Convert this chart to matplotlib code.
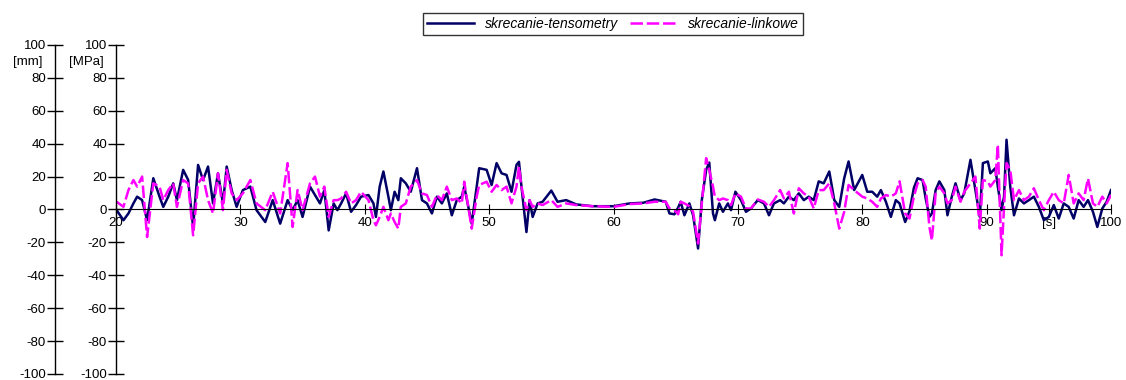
import numpy as np
import matplotlib.pyplot as plt

plt.rcParams['font.family'] = ['Liberation Sans', 'DejaVu Sans']
plt.rcParams['axes.unicode_minus'] = False

# czas [s]
czas = [20.05, 20.6, 21.0, 21.4, 21.7, 22.1, 22.5, 23.0, 23.5, 23.8, 24.2, 24.6, 24.9, 25.4, 25.8,
        26.2, 26.6, 27.0, 27.4, 27.8, 28.2, 28.6, 28.9, 29.3, 29.7, 30.2, 30.8, 31.3, 32.0, 32.6,
        33.2, 33.8, 34.2, 34.6, 35.0, 35.6, 36.0, 36.4, 36.75, 37.1, 37.5, 37.8, 38.1, 38.5, 38.9,
        39.3, 39.7, 40.3, 40.7, 40.9, 41.2, 41.5, 41.9, 42.1, 42.4, 42.7, 42.9, 43.3, 43.7, 44.2,
        44.6, 45.0, 45.4, 45.8, 46.2, 46.6, 47.0, 47.4, 47.8, 48.0, 48.6, 49.0, 49.2, 49.8, 50.2,
        50.6, 51.0, 51.4, 51.8, 52.2, 52.4, 52.6, 53.0, 53.25, 53.5, 53.9, 54.3, 55.0, 55.5, 56.2,
        57.0, 58.3, 60.0, 61.3, 62.4, 63.3, 64.2, 64.5, 64.9, 65.2, 65.4, 65.7, 66.1, 66.4, 66.8,
        67.1, 67.45, 67.7, 68.0, 68.15, 68.5, 68.8, 69.2, 69.45, 69.8, 70.25, 70.65, 71.05, 71.6, 72.1,
        72.5, 72.9, 73.4, 73.7, 74.1, 74.5, 74.9, 75.3, 75.7, 76.1, 76.5, 76.9, 77.35, 77.75, 78.15,
        78.55, 78.9, 79.35, 80.0, 80.4, 80.8, 81.2, 81.5, 81.9, 82.3, 82.7, 83.0, 83.45, 83.8, 84.15,
        84.45, 84.85, 85.1, 85.4, 85.6, 85.9, 86.2, 86.6, 86.85, 87.2, 87.5, 87.9, 88.2, 88.7, 89.1,
        89.45, 89.7, 90.1, 90.3, 90.7, 90.9, 91.2, 91.4, 91.6, 91.9, 92.2, 92.6, 93.0, 93.4, 93.8,
        94.2, 94.6, 95.0, 95.4, 95.8, 96.2, 96.6, 97.0, 97.4, 97.8, 98.15, 98.55, 98.9, 99.3, 99.65,
        100.0]

tensometry = [-0.4, -6.5, -2.4, 3.7, 7.8, 5.7, -6.5, 19.0, 7.8, 1.6, 7.8, 15.9, 5.7, 24.1, 18.0,
              -10.6, 27.1, 17.9, 26.1, 3.7, 22.0, 3.7, 26.1, 11.8, 1.6, 11.8, 13.9, -0.4, -7.6, 5.7,
              -8.6, 5.7, -0.4, 5.7, -4.5, 13.9, 8.8, 3.7, 11.8, -12.7, 3.7, -0.4, 3.7, 9.8, -1.4,
              2.7, 7.8, 8.8, 3.7, -4.5, 13.9, 23.1, 7.8, -0.4, 10.8, 5.7, 19.0, 15.9, 10.8, 25.1,
              5.7, 3.7, -2.4, 7.8, 3.7, 9.8, -3.5, 5.7, 7.8, 13.9, -8.6, 13.9, 25.1, 24.1, 14.9,
              28.2, 22.0, 21.0, 10.8, 27.1, 29.0, 13.9, -13.7, 5.7, -4.5, 3.7, 4.7, 11.5, 4.7, 5.7,
              3.1, 2.0, 2.0, 3.7, 4.1, 6.1, 4.7, -2.4, -2.9, 1.2, 4.7, -3.5, 3.7, -3.5, -23.7,
              5.7, 24.1, 28.5, -2.4, -6.5, 3.7, -1.4, 3.7, -0.4, 10.8, 5.7, -1.4, 0.6, 5.7, 3.7,
              -3.5, 3.7, 5.7, 3.7, 7.8, 5.7, 9.8, 5.7, 7.8, 5.7, 17.1, 15.9, 23.1, 5.7, 1.6,
              19.0, 29.2, 11.8, 21.0, 10.8, 10.8, 7.8, 11.8, 4.7, -4.5, 5.7, 3.7, -7.6, -1.0, 13.1,
              19.0, 17.9, 6.7, -4.5, -2.4, 11.8, 17.1, 11.8, -3.5, 7.8, 15.9, 5.7, 9.8, 30.2, 11.8,
              -4.5, 28.2, 29.2, 22.0, 25.1, 13.9, -0.4, 7.8, 42.4, 13.9, -3.5, 6.7, 3.7, 5.7, 7.8,
              1.6, -6.5, -4.5, 2.7, -5.5, 3.7, 1.6, -5.5, 5.7, 1.6, 5.7, -1.4, -10.6, 0.6, 4.7,
              11.8]

linkowe = [4.7, 1.6, 11.8, 17.9, 13.9, 20.0, -16.7, 15.9, 13.9, 5.7, 11.8, 15.9, 1.6, 17.9, 15.9,
           -15.7, 15.9, 20.0, 5.7, -2.4, 22.0, -0.4, 24.1, 9.8, 5.7, 9.8, 17.9, 3.7, -0.4, 10.8,
           -2.4, 28.2, -10.6, 11.8, -0.4, 15.9, 20.0, 7.8, 13.9, -4.5, 5.7, 5.7, 6.7, 10.8, 3.7,
           5.7, 10.8, 5.7, -6.5, -9.6, -4.5, 1.6, -6.5, -2.4, -7.6, -11.6, 1.6, 3.7, 13.9, 17.9,
           9.8, 8.8, 1.6, 8.8, 5.7, 13.9, 5.7, 6.7, 3.7, 16.9, -11.6, 7.8, 14.9, 16.9, 10.8,
           14.9, 11.8, 13.9, 3.7, 13.9, 26.1, 13.9, -0.4, 5.7, 1.6, 3.7, 2.7, 5.7, 1.6, 3.7,
           2.7, 2.0, 1.6, 3.3, 3.7, 4.7, 4.7, 0.6, -0.4, -2.9, 4.7, 3.7, 2.0, -1.4, -20.6,
           3.7, 31.2, 24.0, 13.9, 7.8, 5.7, 6.7, 5.7, 2.7, 9.8, 7.8, 0.6, 0.6, 6.1, 4.7,
           1.6, 5.7, 11.8, 6.7, 10.8, -2.4, 12.9, 9.8, 7.8, 0.6, 11.8, 11.8, 15.9, 3.7, -11.6,
           -1.4, 14.9, 11.8, 7.8, 6.7, 4.7, 1.6, 6.7, 8.8, 7.8, 9.8, 17.1, -2.4, -5.5, 7.8,
           15.9, 17.9, 13.9, -10.6, -18.8, 9.8, 13.9, 9.8, 3.7, 5.7, 13.9, 4.7, 10.8, 15.9, 20.0,
           -11.6, 17.9, 17.1, 13.9, 17.9, 39.4, -27.8, 1.6, 28.2, 24.1, 5.7, 11.8, 5.7, 7.8, 12.9,
           5.7, -0.4, 5.7, 10.8, 5.7, 3.7, 21.0, 3.7, 9.8, 5.7, 18.8, 3.7, 1.6, 7.8, 3.7,
           8.8]

y_ticks = [-100, -80, -60, -40, -20, 0, 20, 40, 60, 80, 100]
x_ticks = [20, 30, 40, 50, 60, 70, 80, 90, 95, 100]
x_labels = ['20', '30', '40', '50', '60', '70', '80', '90', '[s]', '100']

fig = plt.figure(figsize=(11.26, 3.8), dpi=100)

bottom = 6 / 380
height = 329 / 380

# druga os (mm) po lewej stronie
ax2 = fig.add_axes([55 / 1126, bottom, 0.01, height])
ax2.set_ylim(-100, 100)
ax2.set_xticks([])
for s in ['top', 'right', 'bottom']:
    ax2.spines[s].set_visible(False)
ax2.patch.set_visible(False)

ax = fig.add_axes([116 / 1126, bottom, 995 / 1126, height])
ax.plot(czas, tensometry, color='#000066', linewidth=1.8, label='skrecanie-tensometry')
ax.plot(czas, linkowe, color='#ff00ff', linewidth=1.8, linestyle=(0, (5, 1.5)),
        label='skrecanie-linkowe')
ax.set_xlim(20, 100)
ax.set_ylim(-100, 100)
ax.patch.set_visible(False)
for s in ['top', 'right']:
    ax.spines[s].set_visible(False)
ax.spines['bottom'].set_position(('data', 0))

for a in [ax, ax2]:
    a.set_yticks(y_ticks)
    a.tick_params(axis='y', direction='inout', length=11, width=1, labelsize=9.5, pad=1)
    a.spines['left'].set_linewidth(1)
    a.yaxis.get_major_ticks()[1].tick1line.set_color('#aaaaaa')

ax.set_xticks(x_ticks)
ax.set_xticklabels(x_labels)
ax.tick_params(axis='x', direction='inout', length=7, width=0.8, labelsize=9.5, pad=2, colors='black')
for t in ax.xaxis.get_major_ticks():
    t.tick1line.set_color('#777777')

fig.text(42 / 1126, 1 - 62 / 380, '[mm]', ha='right', va='center', fontsize=9.5)
fig.text(104 / 1126, 1 - 62 / 380, '[MPa]', ha='right', va='center', fontsize=9.5)

leg = fig.legend(loc='center', bbox_to_anchor=(613 / 1126, 1 - 24 / 380), ncol=2,
                 prop={'style': 'italic', 'size': 10}, frameon=True, fancybox=False,
                 handlelength=3.4, columnspacing=0.8, borderpad=0.3, handletextpad=0.8)
leg.get_frame().set_edgecolor('black')
leg.get_frame().set_linewidth(1)

fig.savefig('out.png', dpi=100)
